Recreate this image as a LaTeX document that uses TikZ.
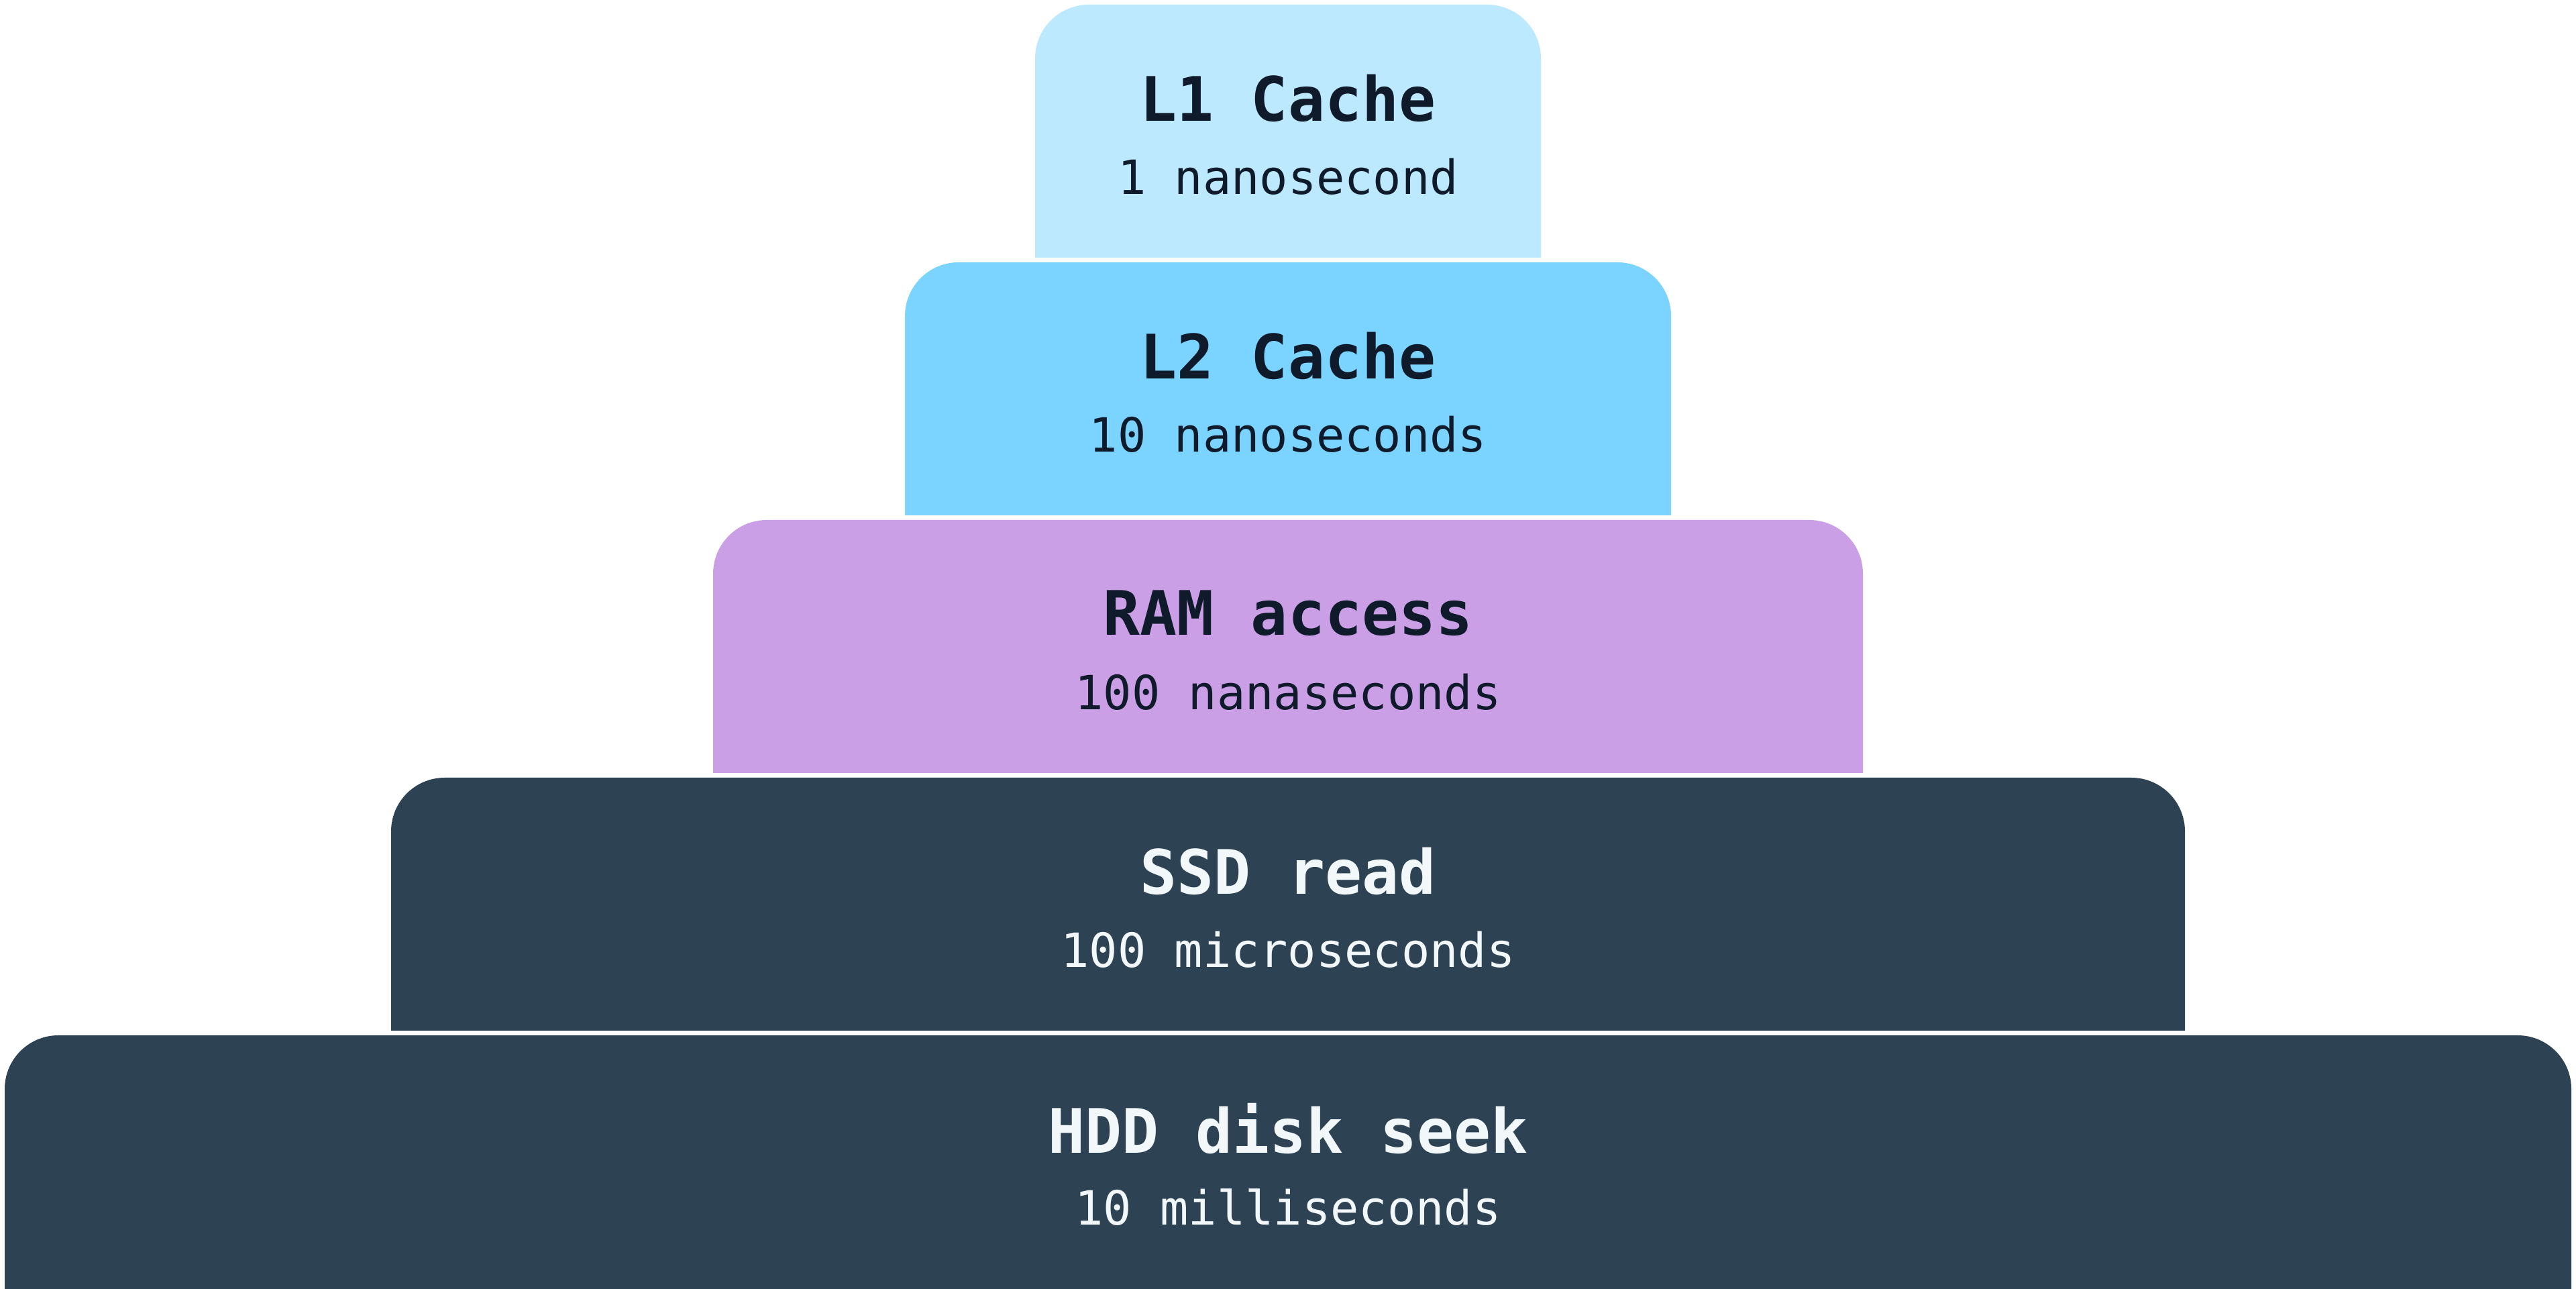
\documentclass[tikz,border=0pt]{standalone}
\usepackage{fontspec}
\newfontfamily\monofnt{DejaVu Sans Mono}
\definecolor{lonec}{HTML}{BDE9FE}
\definecolor{ltwoc}{HTML}{7BD3FF}
\definecolor{ramc}{HTML}{CB9FE6}
\definecolor{darkc}{HTML}{2D4354}
\definecolor{inkc}{HTML}{0F1B2B}
\definecolor{paperc}{HTML}{F2F7FA}
\tikzset{
  tier/.style={fill=#1},
  ttl/.style={font=\monofnt\bfseries\fontsize{26}{30}\selectfont, inner sep=0pt, anchor=center},
  sub/.style={font=\monofnt\fontsize{20}{24}\selectfont, inner sep=0pt, anchor=center},
}
\newcommand{\tierbox}[6]{% color, x1, x2, ybottom, ytop, radius
  \fill[#1] (#2,#4) -- ({#2},{#5-#6}) arc[start angle=180,end angle=90,radius=#6]
    -- ({#3-#6},#5) arc[start angle=90,end angle=0,radius=#6] -- (#3,#4) -- cycle;}
\begin{document}
\begin{tikzpicture}
\useasboundingbox (0,0) rectangle (38.4,19.2);
\clip (0,0) rectangle (38.4,19.2);
\fill[white] (0,0) rectangle (38.4,19.2);
\tierbox{lonec}{15.43}{22.97}{15.36}{19.13}{0.8}
\tierbox{ltwoc}{13.49}{24.91}{11.52}{15.29}{0.8}
\tierbox{ramc}{10.63}{27.77}{7.68}{11.45}{0.8}
\tierbox{darkc}{5.83}{32.57}{3.84}{7.61}{0.8}
\tierbox{darkc}{0.07}{38.33}{-0.5}{3.77}{0.8}
\node[ttl, text=inkc] (l1t) at (19.2,17.74) {L1 Cache};
\node[sub, text=inkc] (l1s) at (19.2,16.57) {1 nanosecond};
\node[ttl, text=inkc] (l2t) at (19.2,13.90) {L2 Cache};
\node[sub, text=inkc] (l2s) at (19.2,12.73) {10 nanoseconds};
\node[ttl, text=inkc] (ramt) at (19.2,10.06) {RAM access};
\node[sub, text=inkc] (rams) at (19.2,8.89) {100 nanaseconds};
\node[ttl, text=paperc] (ssdt) at (19.2,6.22) {SSD read};
\node[sub, text=paperc] (ssds) at (19.2,5.05) {100 microseconds};
\node[ttl, text=paperc] (hddt) at (19.2,2.38) {HDD disk seek};
\node[sub, text=paperc] (hdds) at (19.2,1.21) {10 milliseconds};
\end{tikzpicture}
\end{document}
